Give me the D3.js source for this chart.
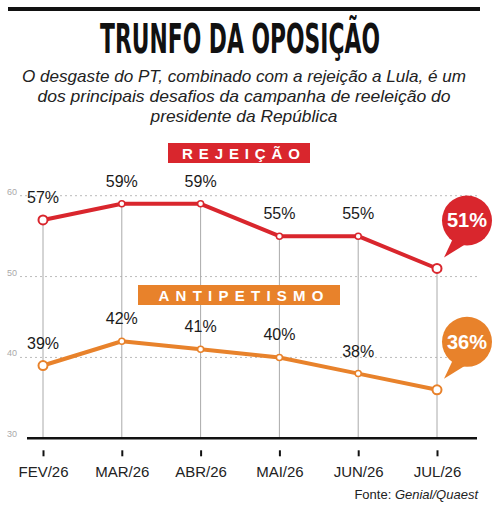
<!DOCTYPE html>
<html>
<head>
<meta charset="utf-8">
<script src="https://cdn.jsdelivr.net/npm/d3@7"></script>
<style>
  body { margin: 0; background: #fff; }
  svg { display: block; }
</style>
</head>
<body>
<svg></svg>
<script>
const width = 500;
const height = 509;

// data
const months = ['FEV/26', 'MAR/26', 'ABR/26', 'MAI/26', 'JUN/26', 'JUL/26'];
const rejeicao = [57, 59, 59, 55, 55, 51];
const antipetismo = [39, 42, 41, 40, 38, 36];
const yTicks = [30, 40, 50, 60];
const subtitleLines = [
	'O desgaste do PT, combinado com a rejeição a Lula, é um',
	'dos principais desafios da campanha de reeleição do',
	'presidente da República'
];

const red = '#d9262d';
const orange = '#e8822b';

const svg = d3.select('svg')
	.attr('width', width)
	.attr('height', height);

// header
svg.append('rect')
	.attr('x', 8).attr('y', 7)
	.attr('width', 472).attr('height', 4)
	.attr('fill', '#111');

// title squeezed horizontally to look condensed
const title = svg.append('text')
	.attr('x', 0).attr('y', 53)
	.attr('text-anchor', 'middle')
	.attr('font-family', '"Liberation Sans Narrow", "DejaVu Sans Condensed", sans-serif')
	.attr('font-weight', 'bold')
	.attr('font-size', 40)
	.attr('fill', '#111')
	.text('TRUNFO DA OPOSIÇÃO');
const tw = title.node().getComputedTextLength();
title.attr('transform', `translate(240,0) scale(${280 / tw},1)`);

const subLens = [444, 413, 187];
svg.selectAll('text.sub')
	.data(subtitleLines)
	.enter()
	.append('text')
	.attr('class', 'sub')
	.attr('x', 244)
	.attr('y', (d, i) => 82 + i * 20)
	.attr('text-anchor', 'middle')
	.attr('font-family', '"Liberation Sans", Arial, sans-serif')
	.attr('font-style', 'italic')
	.attr('font-size', 17)
	.attr('textLength', (d, i) => subLens[i])
	.attr('lengthAdjust', 'spacingAndGlyphs')
	.attr('fill', '#222')
	.text(d => d);

// scales
const x = d3.scalePoint()
	.domain(months)
	.range([43, 437]);

const y = d3.scaleLinear()
	.domain([30, 60])
	.range([438.3, 195.7]);

// grid
svg.selectAll('line.grid')
	.data(yTicks.filter(d => d > 30))
	.enter()
	.append('line')
	.attr('x1', 20).attr('x2', 480)
	.attr('y1', d => y(d)).attr('y2', d => y(d))
	.attr('stroke', '#bbb')
	.attr('stroke-width', 1)
	.attr('stroke-dasharray', '2,3');

svg.selectAll('text.ylab')
	.data(yTicks)
	.enter()
	.append('text')
	.attr('x', 17)
	.attr('y', d => y(d) - 1)
	.attr('text-anchor', 'end')
	.attr('font-family', '"Liberation Sans", Arial, sans-serif')
	.attr('font-size', 9)
	.attr('fill', '#aaa')
	.text(d => d);

// vertical guides
svg.selectAll('line.guide')
	.data(months)
	.enter()
	.append('line')
	.attr('x1', d => x(d)).attr('x2', d => x(d))
	.attr('y1', (d, i) => y(rejeicao[i]))
	.attr('y2', y(30))
	.attr('stroke', '#aaa')
	.attr('stroke-width', 1);

// x axis
const xAxis = svg.append('g')
	.attr('transform', `translate(0,${y(30)})`)
	.call(d3.axisBottom(x).tickSize(0).tickPadding(0));
xAxis.select('.domain').remove();
xAxis.selectAll('.tick text').remove();

svg.append('line')
	.attr('x1', 27).attr('x2', 477)
	.attr('y1', y(30)).attr('y2', y(30))
	.attr('stroke', '#111')
	.attr('stroke-width', 2.5);

xAxis.selectAll('.tick').append('line')
	.attr('y1', 12).attr('y2', 18)
	.attr('stroke', '#111')
	.attr('stroke-width', 2);

xAxis.selectAll('.tick').append('text')
	.attr('y', 39)
	.attr('text-anchor', 'middle')
	.attr('font-family', '"Liberation Sans Narrow", "Liberation Sans", sans-serif')
	.attr('font-size', 15)
	.attr('fill', '#222')
	.text(d => d);

// legend boxes
const legends = [
	{ label: 'REJEIÇÃO', color: red, x0: 168, x1: 310, y0: 143, tl: 118 },
	{ label: 'ANTIPETISMO', color: orange, x0: 138, x1: 340, y0: 285, tl: 165 }
];
legends.forEach(l => {
	svg.append('rect')
		.attr('x', l.x0).attr('y', l.y0)
		.attr('width', l.x1 - l.x0).attr('height', 20)
		.attr('fill', l.color);
	svg.append('text')
		.attr('x', (l.x0 + l.x1) / 2 + 2)
		.attr('y', l.y0 + 16)
		.attr('text-anchor', 'middle')
		.attr('font-family', '"Liberation Sans", Arial, sans-serif')
		.attr('font-weight', 'bold')
		.attr('font-size', 15)
		.attr('fill', '#fff')
		.attr('textLength', l.tl)
		.text(l.label);
});

// series
const line = d3.line()
	.x((d, i) => x(months[i]))
	.y(d => y(d));

function drawSeries(values, color) {
	svg.append('path')
		.datum(values)
		.attr('d', line)
		.attr('fill', 'none')
		.attr('stroke', color)
		.attr('stroke-width', 4)
		.attr('stroke-linejoin', 'round');

	const last = values.length - 1;

	svg.selectAll(null)
		.data(values)
		.enter()
		.append('circle')
		.attr('cx', (d, i) => x(months[i]))
		.attr('cy', d => y(d))
		.attr('r', (d, i) => (i === 0 || i === last) ? 4.5 : 3)
		.attr('fill', '#fff')
		.attr('stroke', color)
		.attr('stroke-width', (d, i) => (i === 0 || i === last) ? 2 : 1.5);

	svg.selectAll(null)
		.data(values.slice(0, last))
		.enter()
		.append('text')
		.attr('x', (d, i) => x(months[i]))
		.attr('y', d => y(d) - 17)
		.attr('text-anchor', 'middle')
		.attr('font-family', '"Liberation Sans", Arial, sans-serif')
		.attr('font-size', 16)
		.attr('fill', '#1a1a1a')
		.text(d => d + '%');

	// callout bubble for the last value
	const px = x(months[last]);
	const py = y(values[last]);
	const cx = px + 30;
	const cy = py - 48;
	const r = 25;
	svg.append('path')
		.attr('d', `M${cx - 14},${cy + 18} L${px + 7},${py - 11} L${cx - 2},${cy + 24} Z`)
		.attr('fill', color);
	svg.append('circle')
		.attr('cx', cx).attr('cy', cy).attr('r', r)
		.attr('fill', color);
	svg.append('text')
		.attr('x', cx).attr('y', cy + 7)
		.attr('text-anchor', 'middle')
		.attr('font-family', '"Liberation Sans", Arial, sans-serif')
		.attr('font-weight', 'bold')
		.attr('font-size', 20)
		.attr('fill', '#fff')
		.text(values[last] + '%');
}

drawSeries(antipetismo, orange);
drawSeries(rejeicao, red);

// source
const src = svg.append('text')
	.attr('x', 478).attr('y', 499)
	.attr('text-anchor', 'end')
	.attr('font-family', '"Liberation Sans Narrow", "Liberation Sans", sans-serif')
	.attr('font-size', 13)
	.attr('fill', '#222');
src.append('tspan').text('Fonte: ');
src.append('tspan').attr('font-style', 'italic').text('Genial/Quaest');
</script>
</body>
</html>
